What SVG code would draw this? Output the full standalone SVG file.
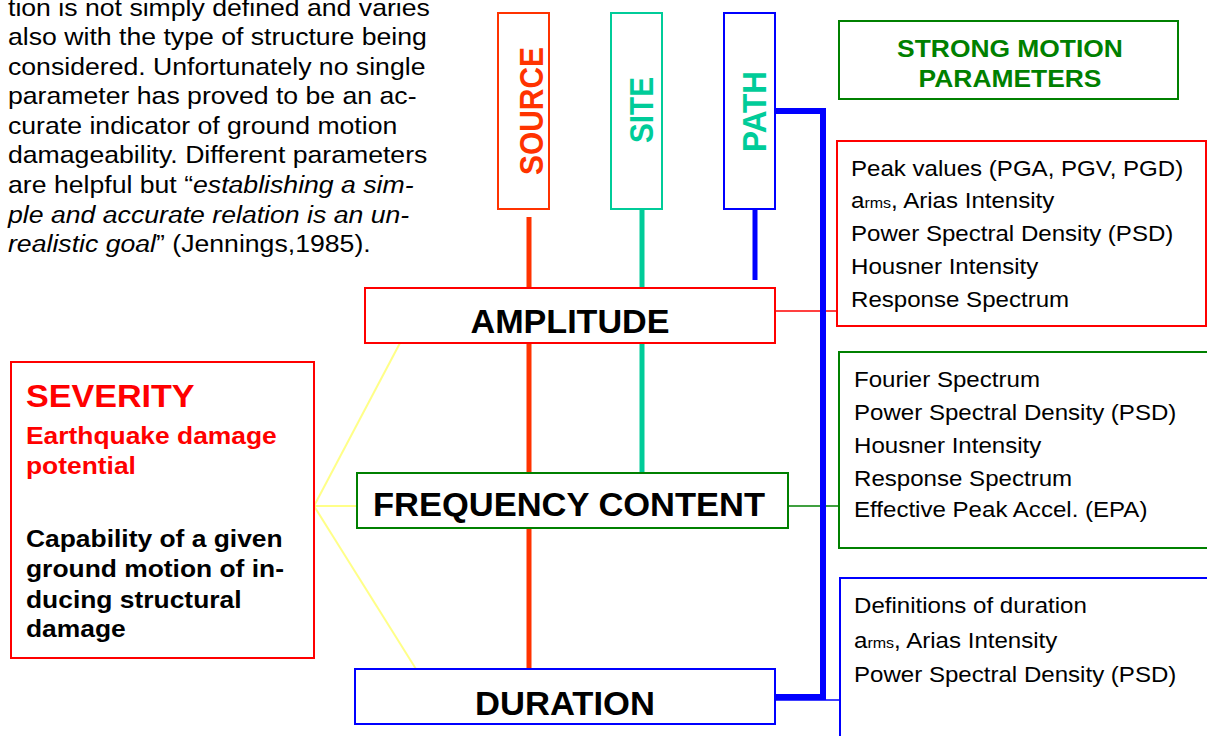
<svg xmlns="http://www.w3.org/2000/svg" width="1207" height="736" viewBox="0 0 1207 736">
  <style>
    .sans { font-family: "Liberation Sans", Arial, sans-serif; }
    .b { font-weight: bold; }
    .body { font-family: "Liberation Sans", Arial, sans-serif; font-size: 22.5px; fill: #000; }
    .para { font-family: "Liberation Sans", Arial, sans-serif; font-size: 24px; fill: #000; }
    .label { font-family: "Liberation Sans", Arial, sans-serif; font-size: 33px; font-weight: bold; fill: #000; text-anchor: middle; }
    .vlabel { font-family: "Liberation Sans", Arial, sans-serif; font-size: 30px; font-weight: bold; text-anchor: middle; }
    .box { fill: #fff; stroke-width: 2; }
    .sub { font-size: 15px; }
  </style>
  <rect width="1207" height="736" fill="#fff"/>

  <!-- introductory paragraph -->
  <g id="paragraph" transform="translate(8 0) scale(1.11 1)">
    <text class="para" x="0" y="15.5">tion is not simply defined and varies</text>
    <text class="para" x="0" y="45.1">also with the type of structure being</text>
    <text class="para" x="0" y="74.7">considered. Unfortunately no single</text>
    <text class="para" x="0" y="104.3">parameter has proved to be an ac-</text>
    <text class="para" x="0" y="133.9">curate indicator of ground motion</text>
    <text class="para" x="0" y="163.5">damageability. Different parameters</text>
    <text class="para" x="0" y="193.1">are helpful but “<tspan font-style="italic">establishing a sim-</tspan></text>
    <text class="para" x="0" y="222.7" font-style="italic">ple and accurate relation is an un-</text>
    <text class="para" x="0" y="252.3"><tspan font-style="italic">realistic goal</tspan>” (Jennings,1985).</text>
  </g>

  <!-- connectors -->
  <g id="connectors" fill="none">
    <!-- yellow fan from the severity box -->
    <g stroke="#FFFF88" stroke-width="2">
      <line x1="314" y1="506" x2="400" y2="343"/>
      <line x1="314" y1="506" x2="357" y2="506"/>
      <line x1="314" y1="506" x2="416" y2="669"/>
    </g>
    <!-- thin links to parameter boxes -->
    <line x1="775" y1="311" x2="837" y2="311" stroke="#FF0000" stroke-width="1.6"/>
    <line x1="788" y1="506" x2="839" y2="506" stroke="#008000" stroke-width="1.6"/>
    <line x1="775" y1="700" x2="840" y2="700" stroke="#0000FF" stroke-width="1.6"/>
    <!-- source / site / path stems -->
    <line x1="529" y1="217" x2="529" y2="669" stroke="#FF3300" stroke-width="5"/>
    <line x1="642" y1="209" x2="642" y2="473" stroke="#00CC99" stroke-width="5"/>
    <line x1="755" y1="209" x2="755" y2="280" stroke="#0000FF" stroke-width="5"/>
    <!-- path feeds duration -->
    <polyline points="775,111 823,111 823,697 776,697" stroke="#0000FF" stroke-width="6" stroke-linejoin="miter"/>
  </g>

  <!-- sources of variation -->
  <g id="source">
    <rect class="box" x="498" y="13" width="51" height="196" stroke="#FF3300" stroke-width="1.6"/>
    <text class="vlabel" fill="#FF3300" transform="translate(543 111) rotate(-90) scale(1 1.12)" textLength="128" lengthAdjust="spacingAndGlyphs">SOURCE</text>
  </g>
  <g id="site">
    <rect class="box" x="611" y="13" width="51" height="196" stroke="#00CC99" stroke-width="1.6"/>
    <text class="vlabel" fill="#00CC99" transform="translate(653 110) rotate(-90) scale(1 1.12)" textLength="66" lengthAdjust="spacingAndGlyphs">SITE</text>
  </g>
  <g id="path">
    <rect class="box" x="724" y="13" width="51" height="196" stroke="#0000FF" stroke-width="1.6"/>
    <text class="vlabel" fill="#00CC99" transform="translate(766 111.5) rotate(-90) scale(1 1.12)" textLength="81" lengthAdjust="spacingAndGlyphs">PATH</text>
  </g>

  <!-- ground motion characteristics -->
  <g id="amplitude">
    <rect class="box" x="365" y="288" width="410" height="55" stroke="#FF0000"/>
    <text class="label" x="570" y="333" textLength="199" lengthAdjust="spacingAndGlyphs">AMPLITUDE</text>
  </g>
  <g id="frequency">
    <rect class="box" x="357" y="473" width="431" height="55" stroke="#008000"/>
    <text class="label" x="569" y="516" textLength="392" lengthAdjust="spacingAndGlyphs">FREQUENCY CONTENT</text>
  </g>
  <g id="duration">
    <rect class="box" x="355" y="669" width="420" height="55" stroke="#0000FF"/>
    <text class="label" x="565" y="715" textLength="180" lengthAdjust="spacingAndGlyphs">DURATION</text>
  </g>

  <!-- severity -->
  <g id="severity">
    <rect class="box" x="11" y="362" width="303" height="296" stroke="#FF0000"/>
    <g transform="translate(26 0) scale(1.1 1)" class="sans b">
      <text x="0" y="407" font-size="31" fill="#FF0000">SEVERITY</text>
      <text x="0" y="444" font-size="24" fill="#FF0000">Earthquake damage</text>
      <text x="0" y="474" font-size="24" fill="#FF0000">potential</text>
      <text x="0" y="547" font-size="24" fill="#000">Capability of a given</text>
      <text x="0" y="577" font-size="24" fill="#000">ground motion of in-</text>
      <text x="0" y="608" font-size="24" fill="#000">ducing structural</text>
      <text x="0" y="637" font-size="24" fill="#000">damage</text>
    </g>
  </g>

  <!-- parameter panels -->
  <g id="strong-motion">
    <rect class="box" x="839" y="21" width="339" height="78" stroke="#008000"/>
    <g transform="translate(1010 0) scale(1.1 1)" class="sans b" font-size="24" fill="#008000" text-anchor="middle">
      <text x="0" y="57">STRONG MOTION</text>
      <text x="0" y="87">PARAMETERS</text>
    </g>
  </g>

  <g id="amplitude-params">
    <rect class="box" x="837" y="141" width="369" height="185" stroke="#FF0000"/>
    <g transform="translate(851 0) scale(1.07 1)">
      <text class="body" x="0" y="176">Peak values (PGA, PGV, PGD)</text>
      <text class="body" x="0" y="208">a<tspan class="sub">rms</tspan>, Arias Intensity</text>
      <text class="body" x="0" y="241">Power Spectral Density (PSD)</text>
      <text class="body" x="0" y="274">Housner Intensity</text>
      <text class="body" x="0" y="307">Response Spectrum</text>
    </g>
  </g>

  <g id="frequency-params">
    <rect class="box" x="839" y="352" width="380" height="196" stroke="#008000"/>
    <g transform="translate(854 0) scale(1.07 1)">
      <text class="body" x="0" y="387">Fourier Spectrum</text>
      <text class="body" x="0" y="420">Power Spectral Density (PSD)</text>
      <text class="body" x="0" y="453">Housner Intensity</text>
      <text class="body" x="0" y="486">Response Spectrum</text>
      <text class="body" x="0" y="517">Effective Peak Accel. (EPA)</text>
    </g>
  </g>

  <g id="duration-params">
    <rect class="box" x="840" y="578" width="380" height="180" stroke="#0000FF"/>
    <g transform="translate(854 0) scale(1.07 1)">
      <text class="body" x="0" y="613">Definitions of duration</text>
      <text class="body" x="0" y="648">a<tspan class="sub">rms</tspan>, Arias Intensity</text>
      <text class="body" x="0" y="682">Power Spectral Density (PSD)</text>
    </g>
  </g>
</svg>
